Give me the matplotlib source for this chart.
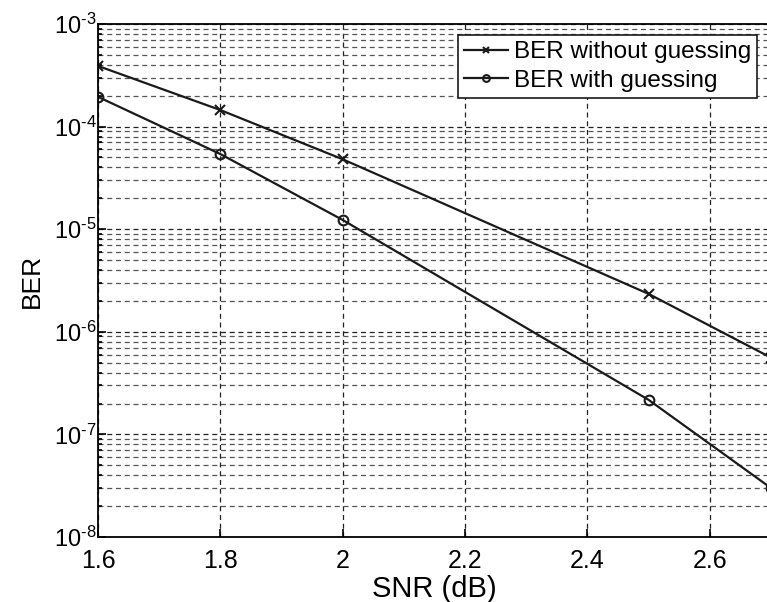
import numpy as np
import matplotlib
matplotlib.use("Agg")
import matplotlib.pyplot as plt
from matplotlib.ticker import LogLocator, NullFormatter, FixedLocator

plt.rcParams['font.family'] = ['Liberation Sans', 'DejaVu Sans']
plt.rcParams['mathtext.fontset'] = 'custom'
plt.rcParams['mathtext.rm'] = 'Liberation Sans'
plt.rcParams['mathtext.it'] = 'Liberation Sans'

snr = [1.6, 1.8, 2.0, 2.5, 2.7]
ber_no_guess = [3.9e-4, 1.45e-4, 4.8e-5, 2.34e-6, 5.6e-7]
ber_guess = [1.95e-4, 5.4e-5, 1.23e-5, 2.17e-7, 3.0e-8]
x_ticks = [1.6, 1.8, 2.0, 2.2, 2.4, 2.6]
x_tick_labels = ['1.6', '1.8', '2', '2.2', '2.4', '2.6']
decades = [-8, -7, -6, -5, -4, -3]

fig = plt.figure(figsize=(7.67, 6.02), dpi=100)
# right edge of the axes sits just past the figure border
ax = fig.add_axes([98 / 767, 1 - 537 / 602, 673 / 767, 513 / 602])

ax.semilogy(snr, ber_no_guess, color='#1a1a1a', lw=1.6, marker='x',
            ms=7, mew=1.5, label='BER without guessing')
ax.semilogy(snr, ber_guess, color='#1a1a1a', lw=1.6, marker='o',
            ms=7, mew=1.5, mfc='none', label='BER with guessing')

ax.set_xlim(1.6, 2.7)
ax.set_ylim(1e-8, 1e-3)
ax.xaxis.set_major_locator(FixedLocator(x_ticks))
ax.set_xticklabels(x_tick_labels)
ax.set_yticks([10.0 ** d for d in decades])
ax.set_yticklabels([r'$\mathregular{10^{\text{%d}}}$' % d for d in decades])
ax.yaxis.set_minor_locator(LogLocator(base=10, subs=np.arange(2, 10)))
ax.yaxis.set_minor_formatter(NullFormatter())

ax.grid(True, which='major', ls=(0, (4, 3)), color='#222222', lw=0.9)
ax.grid(True, which='minor', axis='y', ls=(0, (4, 3)), color='#555555', lw=0.9)
ax.tick_params(which='both', direction='in', length=6, width=1.2)
ax.tick_params(axis='x', labelsize=18, pad=9)
ax.tick_params(axis='y', labelsize=17, pad=1)
ax.tick_params(which='minor', length=3)
for s in ax.spines.values():
    s.set_linewidth(1.3)

ax.set_xlabel('SNR (dB)', fontsize=21, labelpad=1)
ax.set_ylabel('BER', fontsize=19, labelpad=7)

leg = ax.legend(loc='upper right', bbox_to_anchor=(659 / 673, 1 - 11 / 513),
                fontsize=17.5, fancybox=False, framealpha=1, edgecolor='#1a1a1a',
                borderpad=0.25, handlelength=1.8, handletextpad=0.25,
                labelspacing=0.28, borderaxespad=0, markerscale=0.7)
leg.get_frame().set_linewidth(1.2)

fig.savefig('out.png', dpi=100)
